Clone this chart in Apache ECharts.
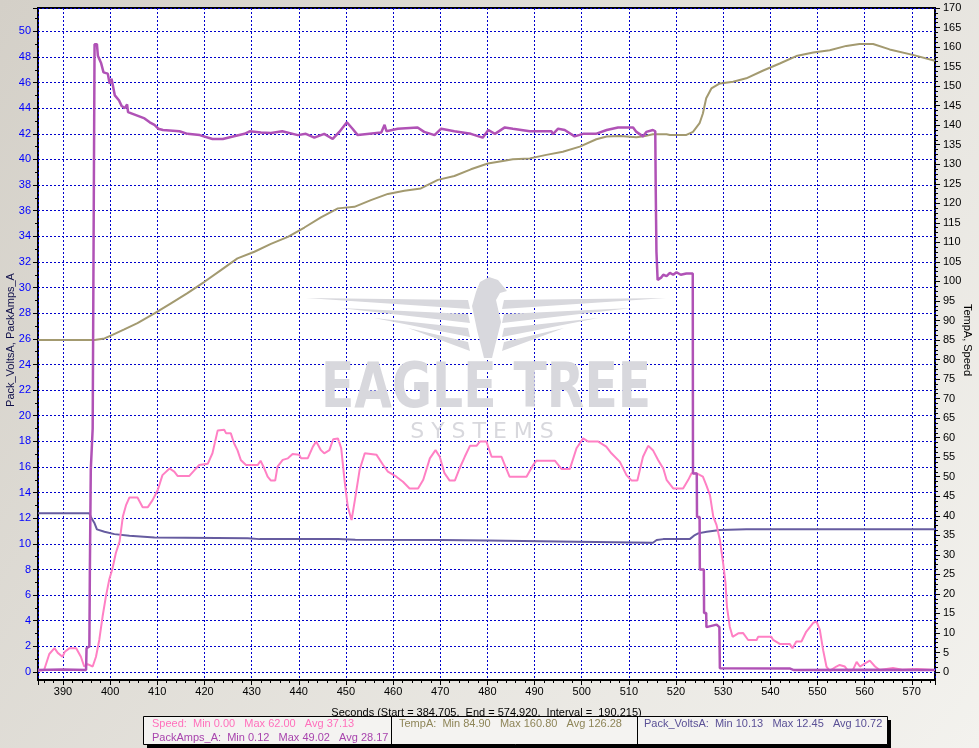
<!DOCTYPE html>
<html><head><meta charset="utf-8">
<script src="https://cdn.jsdelivr.net/npm/echarts@6/dist/echarts.min.js"></script>
<style>html,body{margin:0;padding:0;width:979px;height:748px;overflow:hidden;background:#d4d0c8}#c{width:979px;height:748px}</style>
</head><body><div id="c"></div><script>
// ---- Data ----
const xStart = 384.705, xEnd = 574.92;
const xAxisTitle = 'Seconds (Start = 384.705,  End = 574.920,  Interval =  190.215)';
const leftAxisTitle = 'Pack_VoltsA, PackAmps_A';
const rightAxisTitle = 'TempA, Speed';

const speedT = [384.7,386.0,387.1,388.2,388.9,389.9,390.4,391.4,392.8,393.8,394.5,395.2,396.3,397.0,397.7,398.4,399.1,399.8,400.5,401.2,402.0,402.7,403.4,404.1,405.8,406.9,408.0,409.0,410.1,411.1,412.6,413.6,414.3,416.8,417.9,418.9,420.7,421.7,422.8,424.2,424.6,425.6,426.3,427.0,427.7,428.8,431.3,431.9,432.7,433.4,434.1,435.0,435.5,436.6,437.7,438.7,440.1,440.5,441.9,443.0,443.7,444.7,445.4,446.5,447.3,448.3,449.0,449.7,450.4,451.2,451.9,452.9,454.0,456.5,457.9,458.9,460.7,462.1,463.5,465.3,466.4,467.8,469.0,469.9,470.9,472.0,473.1,474.1,475.2,476.3,477.7,478.4,479.8,480.9,483.0,484.0,484.7,488.3,489.7,490.4,494.3,495.7,497.5,498.9,500.3,501.4,503.5,505.2,506.3,508.1,509.5,510.6,511.8,513.0,514.1,515.1,516.2,517.3,518.0,519.4,521.5,522.6,523.3,524.3,525.7,526.4,527.2,527.9,528.6,529.3,530.0,530.5,530.8,531.4,532.0,533.2,534.2,535.3,537.1,537.4,540.2,540.6,542.0,544.1,544.7,545.5,546.6,547.6,549.1,549.8,550.5,551.2,551.9,552.6,554.0,554.7,555.8,556.5,557.5,558.3,559.0,560.1,561.1,562.2,563.2,566.0,568.0,571.0,574.9];
const speedV = [0.3,0.5,4.6,6.1,4.9,3.9,5.2,6.1,6.1,3.9,1.4,2.0,1.4,3.9,8.2,14.2,19.3,23.6,26.5,30.4,33.4,39.8,42.8,44.7,44.7,42.2,42.2,44.0,46.6,50.4,52.1,51.3,50.2,50.2,51.7,53.0,53.3,56.0,61.8,62.0,61.1,61.1,58.5,56.8,54.3,53.0,53.0,54.1,52.1,50.0,49.0,49.0,52.6,54.3,54.7,55.8,55.6,54.7,54.7,57.7,59.0,56.8,56.0,56.8,59.6,59.8,57.3,49.2,42.3,38.9,44.0,51.7,56.0,55.6,53.0,51.3,50.0,48.7,47.0,47.0,49.2,54.7,56.8,55.1,50.9,49.0,49.0,52.1,55.1,57.9,57.9,59.0,59.0,55.1,55.1,52.1,50.0,50.0,53.0,54.1,54.1,52.0,52.0,57.3,59.8,59.0,59.0,57.7,56.0,53.8,50.4,49.0,49.0,55.1,57.9,56.8,54.3,52.1,49.2,47.0,47.0,49.2,50.9,50.9,50.0,47.9,45.3,39.8,37.6,33.8,27.8,22.7,16.7,11.6,9.0,9.9,10.0,8.2,8.2,9.0,9.0,8.2,7.2,7.2,6.1,7.8,7.8,10.3,12.6,12.9,10.8,5.6,1.4,0.3,1.4,1.8,1.4,0.3,0.5,2.6,1.4,2.2,2.9,1.4,0.5,1.0,0.6,0.8,0.5];

const ampsT = [384.7,390.0,394.9,395.0,395.6,395.7,395.9,396.3,396.5,396.7,397.2,397.4,398.1,398.6,399.5,399.9,400.3,400.6,401.0,401.9,402.4,403.1,403.6,403.8,404.5,405.9,407.3,408.4,409.4,410.2,411.2,414.7,416.4,419.0,421.7,423.9,425.6,426.0,428.5,429.6,432.0,434.1,436.5,439.8,441.5,443.3,445.4,447.2,448.6,450.2,451.4,452.5,455.0,457.5,458.2,458.6,461.0,465.2,466.6,468.8,470.2,473.0,476.5,479.0,480.2,481.6,483.7,485.4,489.0,493.6,493.9,495.0,496.4,498.5,500.3,503.0,505.3,507.7,510.9,511.6,513.0,513.7,515.1,515.6,515.7,515.85,516.1,516.9,517.3,518.0,518.7,519.4,520.1,521.0,522.2,523.55,523.6,524.4,524.45,525.0,525.05,525.9,525.95,526.4,526.45,528.6,529.2,529.3,544.1,545.0,560.0,574.9];
const ampsV = [0.15,0.2,0.16,1.85,2.0,7.7,15.8,19.0,34.0,49.0,49.0,48.1,47.5,46.8,46.7,45.9,46.3,46.3,45.0,44.6,44.2,44.0,44.3,43.7,43.6,43.4,43.2,42.9,42.7,42.4,42.3,42.2,42.0,41.9,41.6,41.6,41.75,41.8,42.0,42.2,42.1,42.07,42.2,41.9,42.0,41.7,42.0,41.6,42.15,42.9,42.4,41.9,42.0,42.1,42.7,42.2,42.4,42.5,42.15,41.9,42.4,42.2,42.0,41.7,42.3,42.0,42.5,42.4,42.2,42.2,41.97,42.4,42.3,41.8,42.0,42.0,42.3,42.5,42.5,42.15,41.8,42.15,42.3,42.2,37.6,32.8,30.6,30.8,31.0,30.9,31.15,31.0,31.2,31.0,31.1,31.1,15.5,15.5,12.1,12.1,8.0,8.0,4.6,4.6,3.5,3.7,3.5,0.29,0.28,0.15,0.18,0.15];

const voltsT = [384.7,395.6,395.9,396.7,397.2,398.8,400.9,404.1,409.4,429.2,431.7,448.3,452.0,470.0,480.0,498.9,515.1,515.9,517.3,522.9,524.0,524.7,526.5,529.3,534.9,574.9];
const voltsV = [12.38,12.38,12.1,11.6,11.13,10.95,10.76,10.63,10.5,10.43,10.37,10.37,10.32,10.3,10.26,10.17,10.09,10.3,10.37,10.37,10.69,10.82,10.95,11.08,11.15,11.15];

const tempT = [384.7,396.7,398.8,400.5,403.0,405.8,409.4,412.9,416.4,420.0,423.5,427.0,430.6,434.1,437.7,441.2,444.7,448.3,451.8,455.3,458.9,462.4,465.9,469.5,473.0,476.5,480.1,483.6,485.4,489.0,492.5,496.0,499.6,503.1,505.3,508.1,511.6,513.4,515.1,518.0,518.7,522.2,523.6,525.0,525.7,526.4,527.5,529.3,532.1,534.9,538.5,542.0,545.5,549.1,552.6,556.1,558.9,561.8,565.3,570.2,574.9];
const tempV = [85.0,85.0,85.4,86.3,87.7,89.3,91.8,94.4,97.0,99.9,102.9,105.9,107.6,109.6,111.4,113.8,116.4,118.7,119.1,120.8,122.4,123.2,123.8,126.0,127.0,128.7,130.2,130.9,131.3,131.5,132.4,133.2,134.5,136.4,137.1,137.2,136.9,137.2,137.7,137.7,137.5,137.5,138.3,140.5,143.0,146.9,149.4,150.7,151.1,152.0,154.0,155.8,157.7,158.6,159.2,160.3,160.8,160.8,159.4,158.0,156.5];

const legendRows = [
  ['Speed:  Min 0.00   Max 62.00   Avg 37.13', 'PackAmps_A:  Min 0.12   Max 49.02   Avg 28.17'],
  ['TempA:  Min 84.90   Max 160.80   Avg 126.28'],
  ['Pack_VoltsA:  Min 10.13   Max 12.45   Avg 10.72']
];

const C_SPEED = '#ff80c4', C_AMPS = '#b052b6', C_TEMP = '#a39a70', C_VOLTS = '#665ca0';
const FONT = 'Liberation Sans, Arial, sans-serif';
const zip = (a, b) => a.map((t, i) => [t, b[i]]);

const grid = '#0000cc';
const chart = echarts.init(document.getElementById('c'), null, {renderer: 'canvas'});

// watermark eagle polygons
const wm = '#d8d8dd';
const eagle = [];
for (let i = 0; i < 4; i++) {
  const xs = 306 + i * 34, ys = 298 + i * 10;
  const left = [[xs, ys], [468, 300 + i * 14], [470, 309 + i * 14]];
  eagle.push({type: 'polygon', z: 1, silent: true, shape: {points: left}, style: {fill: wm}});
  eagle.push({type: 'polygon', z: 1, silent: true, shape: {points: left.map(p => [972 - p[0], p[1]])}, style: {fill: wm}});
}
eagle.push({type: 'polygon', z: 1, silent: true, shape: {points: [[476,292],[480,282],[489,277],[498,280],[507,291],[500,293],[496,300],[501,322],[492,358],[484,358],[477,330],[472,306]]}, style: {fill: wm}});

const legendFont = '11px ' + FONT;
const legendGraphics = [
  {type: 'rect', z: 20, shape: {x: 143.5, y: 716.5, width: 744, height: 28}, style: {fill: '#f4f3f1', stroke: '#000', lineWidth: 1}},
  {type: 'rect', z: 19, shape: {x: 147, y: 720, width: 744, height: 28}, style: {fill: '#000'}},
  {type: 'line', z: 21, shape: {x1: 391.5, y1: 717, x2: 391.5, y2: 744}, style: {stroke: '#000', lineWidth: 1}},
  {type: 'line', z: 21, shape: {x1: 637.5, y1: 717, x2: 637.5, y2: 744}, style: {stroke: '#000', lineWidth: 1}},
  {type: 'text', z: 22, style: {x: 152, y: 724, text: legendRows[0][0], font: legendFont, fill: '#ff70bc', verticalAlign: 'middle', textVerticalAlign: 'middle'}},
  {type: 'text', z: 22, style: {x: 152, y: 738, text: legendRows[0][1], font: legendFont, fill: '#a844ae', verticalAlign: 'middle', textVerticalAlign: 'middle'}},
  {type: 'text', z: 22, style: {x: 399, y: 724, text: legendRows[1][0], font: legendFont, fill: '#8e8558', verticalAlign: 'middle', textVerticalAlign: 'middle'}},
  {type: 'text', z: 22, style: {x: 644, y: 724, text: legendRows[2][0], font: legendFont, fill: '#5a5096', verticalAlign: 'middle', textVerticalAlign: 'middle'}}
];

const watermarkText = [
  {type: 'text', z: 1, silent: true, x: 486, y: 391, scaleX: 1.22, scaleY: 1.55,
   style: {text: 'EAGLE TREE', font: 'bold 40px DejaVu Sans, sans-serif', fill: wm, align: 'center', verticalAlign: 'middle', textAlign: 'center', textVerticalAlign: 'middle'}},
  {type: 'text', z: 1, silent: true, x: 482, y: 432,
   style: {text: 'S Y S T E M S', font: '22px DejaVu Sans, sans-serif', fill: wm, align: 'center', verticalAlign: 'middle', textAlign: 'center', textVerticalAlign: 'middle'}}
];

const dotted = {color: grid, width: 1, type: [2, 2]};

chart.setOption({
  animation: false,
  backgroundColor: {type: 'linear', x: 0, y: 0, x2: 1, y2: 1, colorStops: [{offset: 0, color: '#d4d0c8'}, {offset: 1, color: '#f3f2ee'}]},
  textStyle: {fontFamily: FONT},
  grid: [
    {left: 38, right: 44, top: 8, bottom: 68, show: true, backgroundColor: '#ffffff', borderColor: '#000', borderWidth: 2, z: 0, containLabel: false, outerBoundsMode: 'none'},
    {left: 38, right: 44, top: 8, bottom: 76, show: false, containLabel: false, outerBoundsMode: 'none'}
  ],
  xAxis: [
    {gridIndex: 0, type: 'value', min: xStart, max: xEnd, splitNumber: 19,
     axisLine: {show: false},
     axisTick: {show: true, length: 5, lineStyle: {color: '#000'}},
     minorTick: {show: true, splitNumber: 5, length: 3, lineStyle: {color: '#000'}},
     splitLine: {show: true, lineStyle: dotted},
     axisLabel: {color: '#000', fontSize: 11, fontFamily: FONT, margin: 6, showMinLabel: false, showMaxLabel: false},
     name: xAxisTitle, nameLocation: 'middle', nameGap: 27, nameMoveOverlap: false,
     nameTextStyle: {color: '#000', fontSize: 11, fontFamily: FONT}},
    {gridIndex: 1, type: 'value', min: xStart, max: xEnd, show: false}
  ],
  yAxis: [
    {gridIndex: 0, type: 'value', min: 0, max: 1, show: false},
    {gridIndex: 1, type: 'value', position: 'left', min: 0, max: 51.82, interval: 2,
     axisLine: {show: false},
     axisTick: {show: true, length: 5, lineStyle: {color: '#000'}},
     minorTick: {show: true, splitNumber: 2, length: 3, lineStyle: {color: '#000'}},
     splitLine: {show: true, lineStyle: dotted},
     axisLabel: {color: '#0000ff', fontSize: 11, fontFamily: FONT, margin: 7, showMaxLabel: false},
     name: leftAxisTitle, nameLocation: 'middle', nameGap: 22, nameRotate: 90, nameMoveOverlap: false,
     nameTextStyle: {color: '#10104a', fontSize: 11, fontFamily: FONT}},
    {gridIndex: 1, type: 'value', position: 'right', min: 0, max: 170, interval: 5,
     axisLine: {show: false},
     axisTick: {show: true, length: 5, lineStyle: {color: '#000'}},
     minorTick: {show: true, splitNumber: 4, length: 3, lineStyle: {color: '#000'}},
     splitLine: {show: false},
     axisLabel: {color: '#000', fontSize: 11, fontFamily: FONT, margin: 8},
     name: rightAxisTitle, nameLocation: 'middle', nameGap: 27, nameRotate: -90, nameMoveOverlap: false,
     nameTextStyle: {color: '#000', fontSize: 11, fontFamily: FONT}}
  ],
  graphic: [...eagle, ...watermarkText, ...legendGraphics],
  series: [
    {name: 'TempA', type: 'line', xAxisIndex: 1, yAxisIndex: 2, data: zip(tempT, tempV), symbol: 'none', clip: false, lineStyle: {color: C_TEMP, width: 2}, z: 3},
    {name: 'Pack_VoltsA', type: 'line', xAxisIndex: 1, yAxisIndex: 1, data: zip(voltsT, voltsV), symbol: 'none', clip: false, lineStyle: {color: C_VOLTS, width: 2}, z: 4},
    {name: 'Speed', type: 'line', xAxisIndex: 1, yAxisIndex: 2, data: zip(speedT, speedV), symbol: 'none', clip: false, lineStyle: {color: C_SPEED, width: 2}, z: 5},
    {name: 'PackAmps_A', type: 'line', xAxisIndex: 1, yAxisIndex: 1, data: zip(ampsT, ampsV), symbol: 'none', clip: false, lineStyle: {color: C_AMPS, width: 2.5}, z: 6}
  ]
});
</script></body></html>
